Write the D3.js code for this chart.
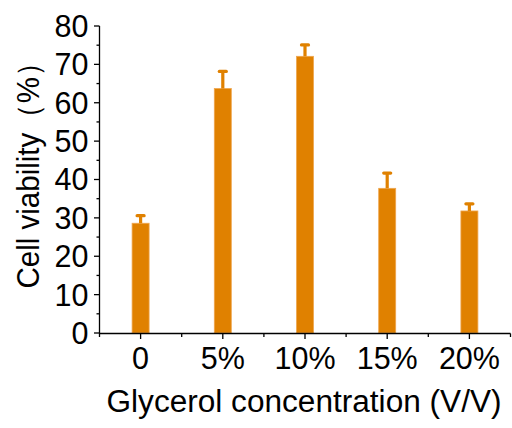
<!DOCTYPE html>
<html>
<head>
<meta charset="utf-8">
<script src="https://cdn.jsdelivr.net/npm/d3@7"></script>
<style>
  html, body { margin: 0; padding: 0; background: #fff; }
  svg { display: block; }
  text { font-family: "Liberation Sans", Arial, sans-serif; fill: #000; }
</style>
</head>
<body>
<svg id="chart" width="512" height="428"></svg>
<script>
// Glycerol concentration vs. cell viability
const categories = ["0", "5%", "10%", "15%", "20%"];
const viability = [28.6, 63.7, 72.1, 37.7, 31.8];
const errors = [2.1, 4.6, 3.1, 4.1, 2.0];
const yTicks = [0, 10, 20, 30, 40, 50, 60, 70, 80];
const yMinorTicks = [5, 15, 25, 35, 45, 55, 65, 75];

const svg = d3.select("#chart");
const barColor = "#e08100";

const x = d3.scaleLinear().domain([0.5, 5.5]).range([99.5, 510.5]);
const y = d3.scaleLinear().domain([0, 80]).range([333, 26]);

// Bars
const barW = 17;
svg.append("g").selectAll("rect")
  .data(viability)
  .join("rect")
  .attr("x", (d, i) => x(i + 1) - barW / 2)
  .attr("y", d => y(d))
  .attr("width", barW)
  .attr("height", d => y(0) - y(d))
  .attr("fill", barColor)
  .attr("stroke", "#eea64f")
  .attr("stroke-width", 0.8);

// Error bars (upper half only)
const eb = svg.append("g");
viability.forEach((v, i) => {
  const cx = x(i + 1);
  eb.append("line")
    .attr("x1", cx).attr("x2", cx)
    .attr("y1", y(v)).attr("y2", y(v + errors[i]))
    .attr("stroke", barColor).attr("stroke-width", 3.2);
  eb.append("line")
    .attr("x1", cx - 3.5).attr("x2", cx + 3.5)
    .attr("y1", y(v + errors[i]) + 0.5).attr("y2", y(v + errors[i]) + 0.5)
    .attr("stroke", barColor).attr("stroke-width", 3.2)
    .attr("stroke-linecap", "round");
});

// Y axis
const yAxis = svg.append("g");
yAxis.append("line")
  .attr("x1", 99.5).attr("x2", 99.5).attr("y1", y(80)).attr("y2", y(0) + 0.5)
  .attr("stroke", "#000").attr("stroke-width", 1.3);
yAxis.selectAll("line.maj").data(yTicks).join("line").attr("class", "maj")
  .attr("x1", 94).attr("x2", 99.5)
  .attr("y1", d => y(d)).attr("y2", d => y(d))
  .attr("stroke", "#000").attr("stroke-width", 1.3);
yAxis.selectAll("line.min").data(yMinorTicks).join("line").attr("class", "min")
  .attr("x1", 96.5).attr("x2", 99.5)
  .attr("y1", d => y(d)).attr("y2", d => y(d))
  .attr("stroke", "#000").attr("stroke-width", 1.3);
yAxis.selectAll("text").data(yTicks).join("text")
  .attr("x", 88.5).attr("y", d => y(d))
  .attr("dy", "0.36em")
  .attr("text-anchor", "end")
  .attr("font-size", 30.5)
  .text(d => d);

// X axis
const xAxis = svg.append("g");
xAxis.append("line")
  .attr("x1", 99).attr("x2", 510.5).attr("y1", 333.5).attr("y2", 333.5)
  .attr("stroke", "#000").attr("stroke-width", 1.3);
const xTickPos = d3.range(0.5, 5.51, 0.5);
xAxis.selectAll("line.t").data(xTickPos).join("line").attr("class", "t")
  .attr("x1", d => x(d)).attr("x2", d => x(d))
  .attr("y1", 333.5).attr("y2", d => Number.isInteger(d) ? 339 : 337)
  .attr("stroke", "#000").attr("stroke-width", 1.3);
xAxis.selectAll("text").data(categories).join("text")
  .attr("x", (d, i) => x(i + 1))
  .attr("y", 369)
  .attr("text-anchor", "middle")
  .attr("font-size", 30.5)
  .text(d => d);

// Axis titles
svg.append("text")
  .attr("x", 304).attr("y", 412)
  .attr("text-anchor", "middle")
  .attr("font-size", 31)
  .attr("textLength", 395)
  .attr("lengthAdjust", "spacingAndGlyphs")
  .text("Glycerol concentration (V/V)");

svg.append("text")
  .attr("transform", "translate(38.5,168) rotate(-90)")
  .attr("text-anchor", "middle")
  .attr("font-size", 31)
  .attr("textLength", 241)
  .attr("lengthAdjust", "spacingAndGlyphs")
  .text("Cell viability（%）");
</script>
</body>
</html>
